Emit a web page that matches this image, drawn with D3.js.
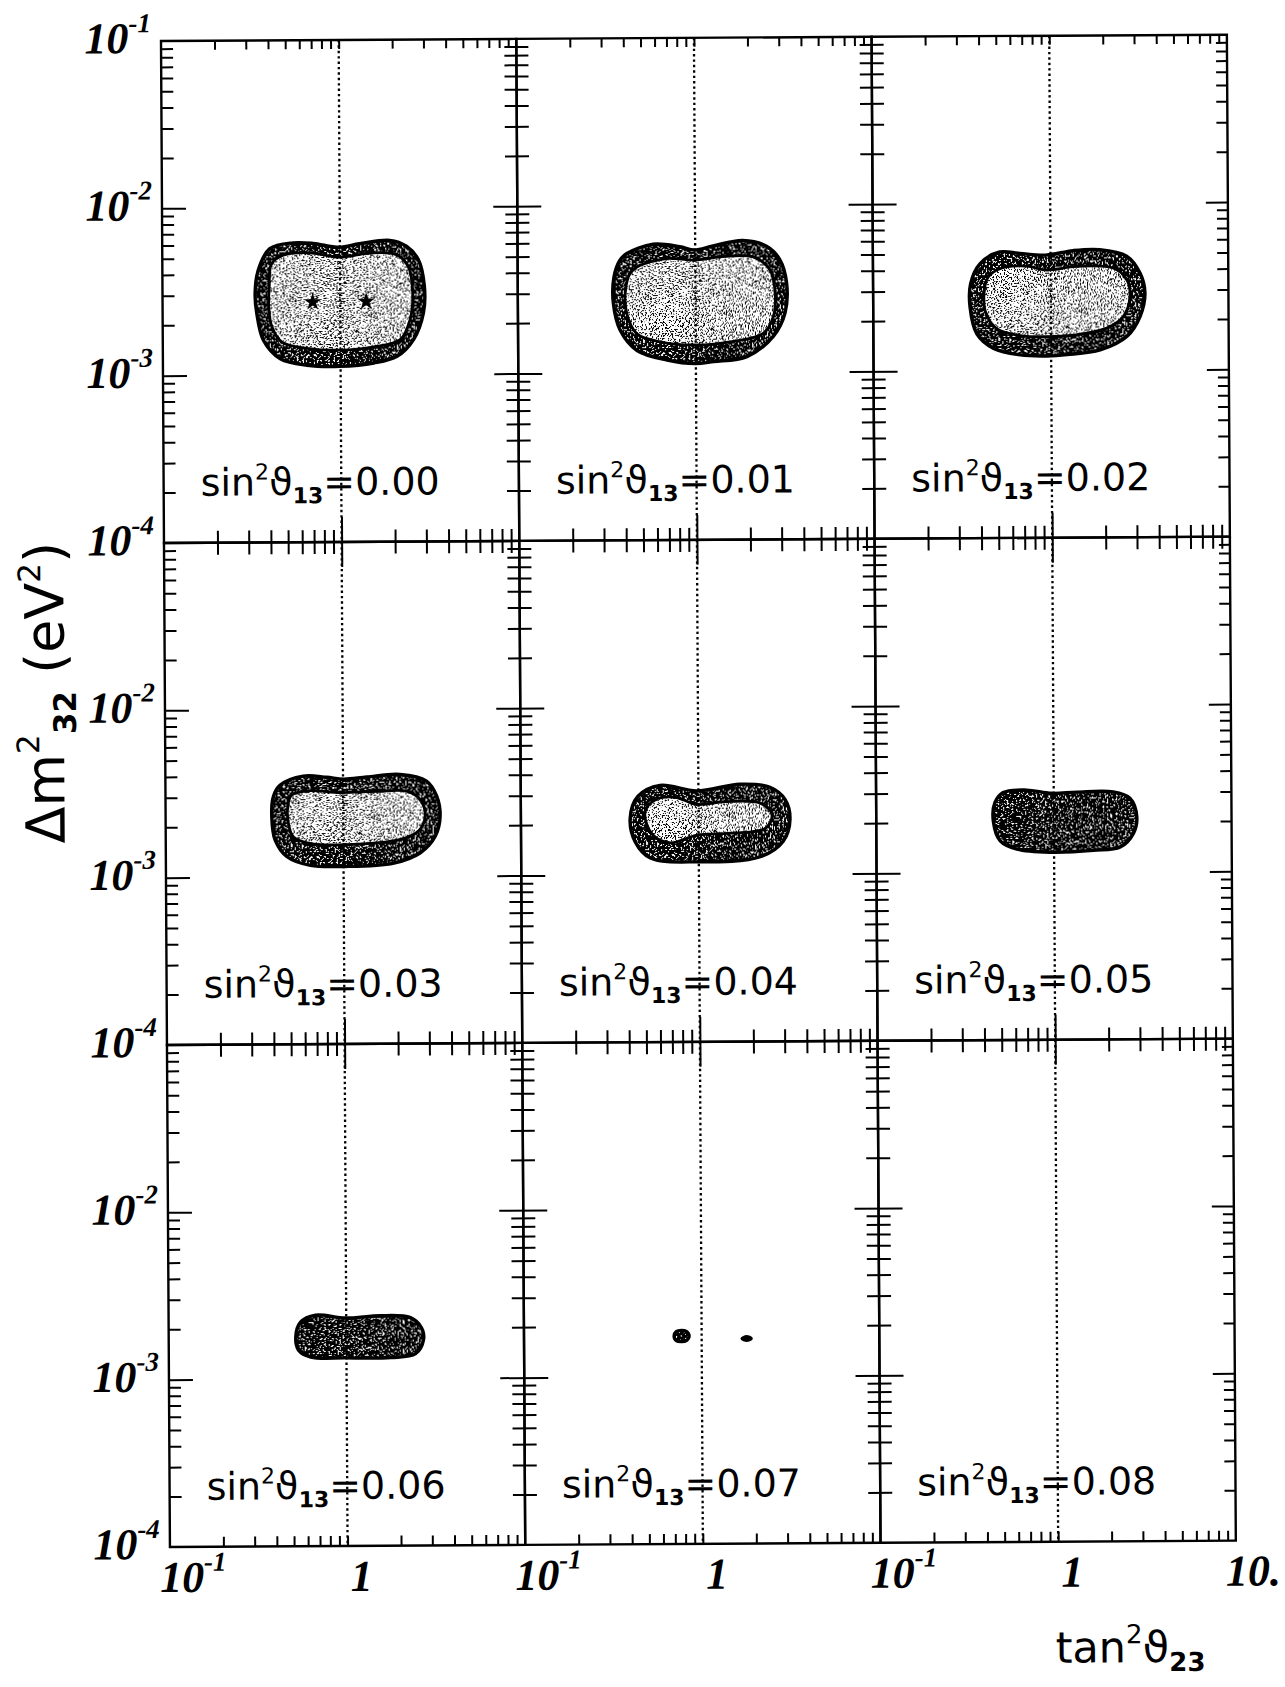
<!DOCTYPE html>
<html>
<head>
<meta charset="utf-8">
<title>Allowed regions in the tan²θ23 – Δm²32 plane</title>
<script src="https://cdn.jsdelivr.net/npm/d3@7"></script>
<style>
  html, body { margin: 0; padding: 0; background: #fff; }
  svg { display: block; }
</style>
</head>
<body>
<svg id="chart" width="1285" height="1687" xmlns="http://www.w3.org/2000/svg"></svg>
<script>
// sin^2(theta13) of each panel, row by row
const sin2Theta13 = ["0.00", "0.01", "0.02", "0.03", "0.04", "0.05", "0.06", "0.07", "0.08"];

// axis ranges
const tanDomain = [0.1, 10];
const dmDomain = [1e-4, 1e-1];

// labelled ticks
const xLabelValues = [0.1, 1, 10];
const xLabelBase = ["10", "1", "10."];
const xLabelExp = ["-1", "", ""];
const yLabelValues = [1e-1, 1e-2, 1e-3, 1e-4];
const yLabelExp = ["-1", "-2", "-3", "-4"];

// contours: [tan^2 theta23, Δm^2_32 in eV^2]; outer = wide region, inner = tight region
const outer000 = [[0.332,3.06e-3],[0.346,4.22e-3],[0.403,5.69e-3],[0.545,6.15e-3],[0.706,6.10e-3],[0.99,5.77e-3],[1.29,6.04e-3],[1.91,6.32e-3],[2.37,5.82e-3],[2.76,4.84e-3],[2.98,3.36e-3],[2.94,2.33e-3],[2.58,1.61e-3],[2.08,1.28e-3],[1.54,1.17e-3],[0.99,1.12e-3],[0.648,1.14e-3],[0.458,1.25e-3],[0.369,1.61e-3],[0.339,2.33e-3]];
const inner000 = [[0.396,2.55e-3],[0.399,3.36e-3],[0.412,4.62e-3],[0.479,5.19e-3],[0.676,5.36e-3],[0.99,5.03e-3],[1.47,5.31e-3],[2.08,5.19e-3],[2.42,4.41e-3],[2.56,3.06e-3],[2.47,2.12e-3],[2.17,1.61e-3],[1.54,1.46e-3],[0.99,1.40e-3],[0.648,1.44e-3],[0.469,1.57e-3],[0.412,1.94e-3]];
const bestFit000 = [[0.70,2.72e-3],[1.40,2.73e-3]];

const outer001 = [[0.345,2.59e-3],[0.348,3.73e-3],[0.376,4.70e-3],[0.410,5.15e-3],[0.580,5.86e-3],[0.819,5.65e-3],[0.99,5.40e-3],[1.26,5.70e-3],[1.86,6.13e-3],[2.52,5.65e-3],[2.99,4.70e-3],[3.26,3.41e-3],[3.19,2.26e-3],[2.74,1.64e-3],[1.94,1.24e-3],[1.26,1.16e-3],[0.99,1.13e-3],[0.689,1.19e-3],[0.467,1.36e-3],[0.376,1.80e-3]];
const inner001 = [[0.404,3.11e-3],[0.428,3.91e-3],[0.467,4.28e-3],[0.689,4.81e-3],[0.99,4.70e-3],[1.43,4.92e-3],[2.12,4.88e-3],[2.63,4.09e-3],[2.81,2.97e-3],[2.74,2.15e-3],[2.41,1.71e-3],[1.63,1.53e-3],[0.99,1.46e-3],[0.631,1.53e-3],[0.467,1.71e-3],[0.410,2.26e-3]];

const outer002 = [[0.354,3.31e-3],[0.400,4.36e-3],[0.518,5.12e-3],[0.671,5.01e-3],[0.94,4.89e-3],[1.34,5.19e-3],[1.89,5.24e-3],[2.68,4.78e-3],[3.18,3.80e-3],[3.39,2.89e-3],[3.18,2.09e-3],[2.68,1.59e-3],[1.89,1.32e-3],[1.23,1.24e-3],[0.95,1.22e-3],[0.671,1.24e-3],[0.475,1.36e-3],[0.383,1.66e-3],[0.351,2.40e-3]];
const inner002 = [[0.421,2.89e-3],[0.445,3.63e-3],[0.518,4.07e-3],[0.733,4.21e-3],[0.95,3.98e-3],[1.40,4.17e-3],[2.25,4.07e-3],[2.68,3.47e-3],[2.79,2.75e-3],[2.56,2.09e-3],[2.06,1.78e-3],[1.34,1.62e-3],[0.95,1.59e-3],[0.671,1.62e-3],[0.497,1.78e-3],[0.432,2.19e-3]];

const outer003 = [[0.396,2.28e-3],[0.404,3.01e-3],[0.441,3.53e-3],[0.597,4.00e-3],[0.807,3.93e-3],[1.01,3.82e-3],[1.36,3.93e-3],[2.09,4.06e-3],[2.95,3.70e-3],[3.36,3.01e-3],[3.51,2.28e-3],[3.29,1.73e-3],[2.71,1.38e-3],[1.92,1.20e-3],[1.01,1.15e-3],[0.651,1.17e-3],[0.481,1.32e-3],[0.413,1.66e-3]];
const inner003 = [[0.488,2.18e-3],[0.49,2.74e-3],[0.513,3.08e-3],[0.651,3.27e-3],[0.96,3.18e-3],[1.55,3.22e-3],[2.28,3.22e-3],[2.71,2.87e-3],[2.89,2.28e-3],[2.65,1.86e-3],[2.09,1.66e-3],[1.01,1.55e-3],[0.651,1.58e-3],[0.524,1.73e-3]];

const outer004 = [[0.412,2.18e-3],[0.457,2.95e-3],[0.608,3.42e-3],[0.98,3.16e-3],[1.71,3.45e-3],[2.53,3.30e-3],[3.07,2.79e-3],[3.27,2.12e-3],[2.99,1.57e-3],[2.22,1.27e-3],[0.98,1.19e-3],[0.534,1.26e-3],[0.440,1.57e-3]];
const inner004 = [[0.500,2.37e-3],[0.569,2.80e-3],[0.738,2.90e-3],[0.98,2.62e-3],[1.41,2.72e-3],[2.22,2.66e-3],[2.59,2.27e-3],[2.38,1.88e-3],[1.51,1.76e-3],[0.98,1.72e-3],[0.692,1.55e-3],[0.549,1.74e-3]];

const outer005 = [[0.456,2.04e-3],[0.466,2.62e-3],[0.519,3.01e-3],[0.703,3.11e-3],[0.97,2.97e-3],[1.35,3.01e-3],[2.16,3.01e-3],[2.69,2.75e-3],[2.93,2.13e-3],[2.80,1.70e-3],[2.36,1.41e-3],[1.67,1.35e-3],[0.97,1.32e-3],[0.618,1.38e-3],[0.498,1.55e-3]];

const outer006 = [[0.519,1.77e-3],[0.553,2.18e-3],[0.671,2.40e-3],[0.99,2.30e-3],[1.56,2.37e-3],[2.30,2.30e-3],[2.65,2.00e-3],[2.72,1.70e-3],[2.45,1.40e-3],[1.78,1.33e-3],[0.99,1.33e-3],[0.630,1.35e-3],[0.539,1.48e-3]];

const outer007a = [[0.70,1.75e-3],[0.72,1.86e-3],[0.77,1.89e-3],[0.82,1.86e-3],[0.85,1.75e-3],[0.82,1.64e-3],[0.77,1.62e-3],[0.72,1.64e-3]];
const inner007a = [[0.74,1.75e-3],[0.77,1.80e-3],[0.80,1.75e-3],[0.77,1.70e-3]];
const outer007b = [[1.69,1.68e-3],[1.79,1.72e-3],[1.90,1.68e-3],[1.79,1.64e-3]];

const panels = [
  { label: sin2Theta13[0], outer: [outer000], inner: [inner000], stars: bestFit000 },
  { label: sin2Theta13[1], outer: [outer001], inner: [inner001], stars: [] },
  { label: sin2Theta13[2], outer: [outer002], inner: [inner002], stars: [] },
  { label: sin2Theta13[3], outer: [outer003], inner: [inner003], stars: [] },
  { label: sin2Theta13[4], outer: [outer004], inner: [inner004], stars: [] },
  { label: sin2Theta13[5], outer: [outer005], inner: [], stars: [] },
  { label: sin2Theta13[6], outer: [outer006], inner: [], stars: [] },
  { label: sin2Theta13[7], outer: [outer007a, outer007b], inner: [inner007a], stars: [] },
  { label: sin2Theta13[8], outer: [], inner: [], stars: [] }
];

// ---- layout ----
const X0 = 161, Y0 = 41;     // top-left corner of the grid
const W = 355.3, H = 502;    // size of one panel

const svg = d3.select("#chart");
const defs = svg.append("defs");

// grainy stipple used for the shaded regions
function speckle(id, slope, offset, seed, freq) {
  const f = defs.append("filter").attr("id", id)
    .attr("color-interpolation-filters", "sRGB");
  f.append("feTurbulence").attr("type", "fractalNoise")
    .attr("baseFrequency", freq).attr("numOctaves", 2).attr("seed", seed).attr("result", "noise");
  f.append("feColorMatrix").attr("in", "noise").attr("type", "matrix")
    .attr("values", `0 0 0 0 0  0 0 0 0 0  0 0 0 0 0  ${slope} 0 0 0 ${offset}`).attr("result", "ink");
  f.append("feComposite").attr("in", "ink").attr("in2", "SourceGraphic").attr("operator", "in");
}
speckle("speckDark", -30, 18.7, 4, 0.55);
speckle("speckLight", 30, -17.0, 9, 0.7);

const root = svg.append("g").attr("transform", `rotate(-0.34 ${X0} ${Y0})`);

const x = d3.scaleLog().domain(tanDomain).range([0, W]);
const y = d3.scaleLog().domain(dmDomain).range([H, 0]);
const isDecade = v => Math.abs(Math.log10(v) - Math.round(Math.log10(v))) < 1e-9;
const xTicks = x.ticks().filter(v => v > tanDomain[0] * 1.001 && v < tanDomain[1] * 0.999);
const yTicks = y.ticks().filter(v => v > dmDomain[0] * 1.001 && v < dmDomain[1] * 0.999);

const contour = d3.line()
  .x(d => x(d[0])).y(d => y(d[1]))
  .curve(d3.curveCatmullRomClosed.alpha(0.5));

function drawTicks(g, horizontal, scale, values, from, to) {
  const axis = (horizontal ? d3.axisBottom(scale) : d3.axisLeft(scale))
    .tickValues(values).tickFormat("").tickSizeOuter(0);
  g.call(axis);
  g.select(".domain").remove();
  g.selectAll(".tick text").remove();
  g.selectAll(".tick line")
    .attr(horizontal ? "y1" : "x1", from)
    .attr(horizontal ? "y2" : "x2", to)
    .attr("stroke", "#000").attr("stroke-width", 2);
}

function powerLabel(parent, base, exp) {
  const t = parent.append("text")
    .attr("font-family", "Liberation Serif, Times New Roman, serif")
    .attr("font-weight", "bold").attr("font-style", "italic")
    .attr("font-size", 44).attr("fill", "#000");
  t.append("tspan").text(base);
  if (exp) t.append("tspan").attr("font-size", 27).attr("dy", -21).text(exp);
  return t;
}

panels.forEach((p, i) => {
  const r = Math.floor(i / 3), c = i % 3;
  const g = root.append("g").attr("transform", `translate(${X0 + c * W},${Y0 + r * H})`);

  // shaded regions
  p.outer.forEach(pts => {
    g.append("path").attr("d", contour(pts)).attr("fill", "#fff");
    g.append("path").attr("d", contour(pts)).attr("fill", "#000").attr("filter", "url(#speckDark)");
    g.append("path").attr("d", contour(pts)).attr("fill", "none")
      .attr("stroke", "#000").attr("stroke-width", 3.4).attr("stroke-linejoin", "round");
  });
  p.inner.forEach(pts => {
    g.append("path").attr("d", contour(pts)).attr("fill", "#fff");
    g.append("path").attr("d", contour(pts)).attr("fill", "#000").attr("filter", "url(#speckLight)");
    g.append("path").attr("d", contour(pts)).attr("fill", "none")
      .attr("stroke", "#000").attr("stroke-width", 2.8).attr("stroke-linejoin", "round");
  });

  // best-fit points
  g.selectAll("path.star").data(p.stars).enter().append("path").attr("class", "star")
    .attr("d", d3.symbol().type(d3.symbolStar).size(95))
    .attr("transform", d => `translate(${x(d[0])},${y(d[1])})`)
    .attr("fill", "#000");

  // maximal mixing line
  g.append("line").attr("x1", x(1)).attr("x2", x(1)).attr("y1", 0).attr("y2", H)
    .attr("stroke", "#000").attr("stroke-width", 2.3).attr("stroke-dasharray", "2.4 3");

  // frame
  g.append("rect").attr("width", W).attr("height", H)
    .attr("fill", "none").attr("stroke", "#000").attr("stroke-width", 2.4);

  // ticks: inward on the outer border, on both sides of shared borders
  if (r === 0) drawTicks(g.append("g"), true, x, xTicks, 0, 9);
  drawTicks(g.append("g").attr("transform", `translate(0,${H})`), true, x, xTicks,
    d => (r < 2 ? (isDecade(d) ? 25 : 12) : 0),
    d => (r < 2 ? (isDecade(d) ? -25 : -12) : -10));
  drawTicks(g.append("g"), false, y, yTicks,
    d => (c > 0 ? (isDecade(d) ? -24 : -12) : 0),
    d => (isDecade(d) ? 24 : 12));
  if (c === 2) drawTicks(g.append("g").attr("transform", `translate(${W},0)`), false, y, yTicks,
    0, d => (isDecade(d) ? -22 : -11));

  // y tick labels on the left column
  if (c === 0) {
    yLabelValues.forEach((v, k) => {
      if (r > 0 && k === 0) return;
      powerLabel(g, "10", yLabelExp[k]).attr("text-anchor", "end")
        .attr("x", -10).attr("y", y(v) + 12);
    });
  }
  // x tick labels on the bottom row
  if (r === 2) {
    xLabelValues.forEach((v, k) => {
      if (k === 2 && c < 2) return;
      powerLabel(g, xLabelBase[k], xLabelExp[k])
        .attr("x", x(v) + (xLabelBase[k] === "1" ? 3 : -10)).attr("y", H + 45);
    });
  }

  // panel caption
  const lab = g.append("text").attr("x", 37).attr("y", H - 47)
    .attr("font-family", "DejaVu Sans, sans-serif").attr("font-size", 38).attr("fill", "#000");
  lab.append("tspan").text("sin");
  lab.append("tspan").attr("font-size", 22).attr("dy", -16).text("2");
  lab.append("tspan").attr("dy", 16).text("ϑ");
  lab.append("tspan").attr("font-size", 22).attr("font-weight", "bold").attr("dy", 8).text("13");
  lab.append("tspan").attr("dy", -8).text("=" + p.label);
});

// axis titles
const yTitle = root.append("text")
  .attr("transform", "translate(60,692) rotate(-90)")
  .attr("text-anchor", "middle")
  .attr("font-family", "DejaVu Sans, sans-serif").attr("font-size", 54).attr("fill", "#000");
yTitle.append("tspan").text("Δm");
yTitle.append("tspan").attr("font-size", 31).attr("dy", -25).text("2");
yTitle.append("tspan").attr("font-size", 31).attr("font-weight", "bold").attr("dy", 37).text("32");
yTitle.append("tspan").attr("dy", -12).text(" (eV");
yTitle.append("tspan").attr("font-size", 31).attr("dy", -23).text("2");
yTitle.append("tspan").attr("dy", 23).text(")");

const xTitle = root.append("text")
  .attr("x", 1046).attr("y", 1668)
  .attr("font-family", "DejaVu Sans, sans-serif").attr("font-size", 43).attr("fill", "#000");
xTitle.append("tspan").text("tan");
xTitle.append("tspan").attr("font-size", 26).attr("dy", -19).text("2");
xTitle.append("tspan").attr("dy", 19).text("ϑ");
xTitle.append("tspan").attr("font-size", 26).attr("font-weight", "bold").attr("dy", 9).text("23");
</script>
</body>
</html>
